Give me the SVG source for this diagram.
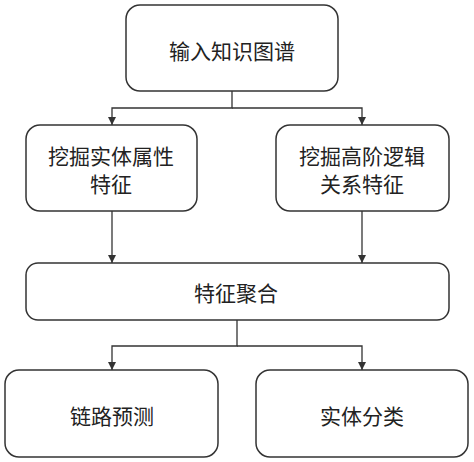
<svg xmlns="http://www.w3.org/2000/svg" width="474" height="462" viewBox="0 0 474 462">
<defs>
<style>
.box{fill:#fff;stroke:#333;stroke-width:1.5}
.t{font-family:"Noto Sans CJK SC","Noto Sans",sans-serif;font-size:21px;fill:#222;text-anchor:middle;dominant-baseline:central}
.c{fill:none;stroke:#333;stroke-width:1.3}
</style>
<marker id="a" viewBox="0 0 10 10" refX="10" refY="5" markerWidth="8" markerHeight="8" markerUnits="userSpaceOnUse" orient="auto">
<path d="M0,0 L10,5 L0,10 z" fill="#333"/>
</marker>
</defs>
<rect width="474" height="462" fill="#fff"/>
<g id="connectors">
<path class="c" d="M232,91 V108 H112 V125" marker-end="url(#a)"/>
<path class="c" d="M232,108 H362 V125" marker-end="url(#a)"/>
<path class="c" d="M112,211 V263" marker-end="url(#a)"/>
<path class="c" d="M362,211 V263" marker-end="url(#a)"/>
<path class="c" d="M237,320 V346 H112 V370" marker-end="url(#a)"/>
<path class="c" d="M237,346 H362 V370" marker-end="url(#a)"/>
</g>
<g id="n1"><rect class="box" x="126" y="5" width="212" height="86" rx="14"/><text class="t" x="232" y="50">输入知识图谱</text></g>
<g id="n2"><rect class="box" x="26" y="125" width="171" height="86" rx="14"/><text class="t" x="111" y="155">挖掘实体属性</text><text class="t" x="111" y="183">特征</text></g>
<g id="n3"><rect class="box" x="276" y="125" width="173" height="86" rx="14"/><text class="t" x="362" y="155">挖掘高阶逻辑</text><text class="t" x="362" y="183">关系特征</text></g>
<g id="n4"><rect class="box" x="26" y="263" width="423" height="57" rx="12"/><text class="t" x="236" y="292">特征聚合</text></g>
<g id="n5"><rect class="box" x="5" y="370" width="213" height="87" rx="14"/><text class="t" x="112" y="415">链路预测</text></g>
<g id="n6"><rect class="box" x="256" y="370" width="212" height="87" rx="14"/><text class="t" x="362" y="415">实体分类</text></g>
</svg>
